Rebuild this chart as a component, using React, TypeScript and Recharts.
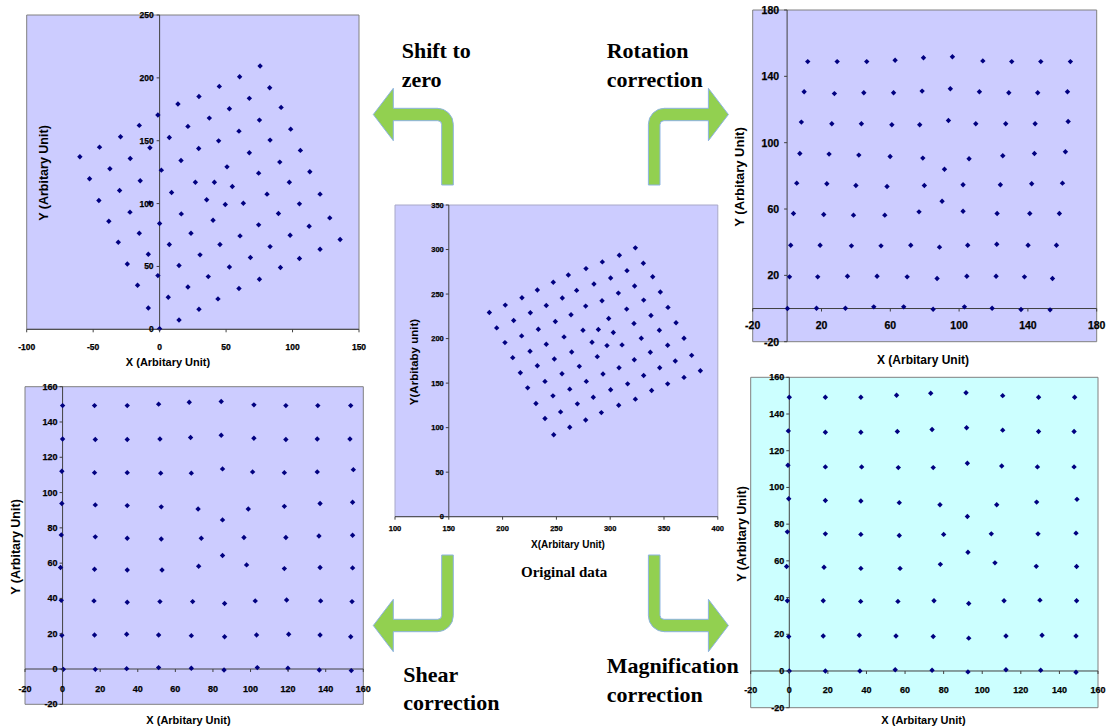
import {
  ScatterChart, Scatter, XAxis, YAxis, CartesianGrid,
  ReferenceLine, ReferenceArea,
} from 'recharts';

type Pt = [number, number];

// measured grid (x, y) at each stage of the correction chain
const originalPts: Pt[] = [
  [261.1, 271.4], [247.1, 263.2], [268.8, 254.1], [232.3, 254.5], [218.0, 245.9], [255.5, 245.5],
  [240.6, 237.2], [202.5, 237.6], [187.7, 229.3], [263.6, 226.7], [225.8, 229.0], [210.3, 220.3],
  [249.0, 219.2], [194.5, 212.0], [233.2, 210.5], [217.7, 203.0], [257.1, 201.9], [202.2, 195.5],
  [240.6, 193.6], [264.2, 185.0], [225.5, 185.7], [209.4, 178.6], [248.1, 177.1], [232.3, 169.5],
  [271.3, 168.8], [216.5, 161.7], [255.2, 160.5], [239.4, 151.9], [223.3, 144.7], [262.4, 143.2],
  [246.8, 135.7], [231.0, 127.1], [269.5, 126.7], [253.9, 117.7], [239.4, 110.2], [262.4, 100.4],
  [247.5, 92.1],
  [323.4, 301.9], [308.5, 293.6], [292.7, 286.1], [330.8, 284.6], [277.5, 278.6], [315.6, 276.3],
  [339.5, 269.5], [300.4, 268.0], [284.9, 261.3], [322.7, 259.0], [307.6, 251.1], [346.6, 252.3],
  [292.4, 242.5], [331.1, 243.2], [277.2, 236.5], [315.3, 233.1], [353.7, 235.0], [298.6, 222.6],
  [337.9, 225.9], [322.1, 216.9], [361.2, 217.7], [274.7, 209.4], [289.0, 210.2], [302.9, 206.8],
  [283.1, 195.9], [297.0, 192.1], [311.0, 192.9], [328.9, 200.4], [345.7, 209.4], [368.6, 200.4],
  [288.0, 179.7], [322.4, 176.3], [337.3, 184.6], [353.4, 192.5], [375.7, 181.2], [360.5, 174.8],
  [308.2, 167.3], [346.0, 167.3], [383.8, 163.9], [293.3, 160.2], [331.1, 158.6], [368.6, 156.4],
  [277.8, 151.9], [316.2, 149.2], [353.4, 149.2], [300.4, 142.5], [338.5, 141.7], [284.3, 134.2],
  [323.4, 132.0], [307.9, 125.2], [291.8, 116.9], [277.2, 108.6],
];

const shiftedPts: Pt[] = [
  [0, 0.5], [14.6, 7.4], [29.6, 15.9], [43.9, 24.2], [59.7, 32.4], [75.1, 39.8], [90.9, 49.1], [105.2, 56.3], [120.7, 63.7], [135.8, 71.4],
  [-8.5, 17.0], [6.5, 25.5], [21.3, 33.7], [36.6, 41.9], [52.5, 49.6], [68.3, 57.1], [83.1, 65.8], [98.2, 74.8], [112.5, 82.0], [128.0, 88.6],
  [-16.6, 35.0], [-1.3, 42.7], [14.6, 50.7], [30.4, 59.2], [45.4, 67.4], [60.5, 74.3], [74.5, 83.1], [89.4, 92.1], [105.2, 99.8], [120.7, 107.5],
  [-24.3, 52.0], [-8.5, 59.7], [7.3, 67.4], [23.6, 76.4], [40.2, 86.8], [49.4, 99.3], [63.0, 100.3], [80.8, 107.5], [97.6, 117.0], [113.0, 125.3],
  [-31.1, 69.3], [-15.3, 76.4], [0, 84.1], [16.3, 91.8], [35.4, 103.0], [41.2, 117.0], [54.7, 113.6], [74.5, 124.2], [90.4, 133.0], [105.9, 142.3],
  [-38.2, 86.0], [-22.3, 93.2], [-7.5, 100.6], [9.0, 108.8], [26.9, 117.0], [50.7, 129.2], [67.5, 140.4], [83.1, 150.5], [98.6, 159.2],
  [-45.7, 102.4], [-30.1, 110.4], [-14.6, 118.1], [1.3, 126.6], [16.1, 134.3], [29.4, 143.8], [44.4, 149.9], [59.7, 157.6], [75.1, 166.4], [91.4, 176.5],
  [-52.7, 119.7], [-37.4, 127.7], [-22.1, 135.9], [-7.3, 144.4], [7.3, 152.6], [21.3, 161.4], [37.4, 168.0], [52.5, 175.4], [67.5, 183.7], [82.8, 192.1],
  [-60.0, 137.2], [-45.2, 144.9], [-29.4, 153.1], [-15.3, 162.2], [-1.3, 170.5], [13.8, 179.2], [29.6, 185.2], [44.9, 193.2], [60.2, 200.9], [75.6, 209.4],
];

const rotatedPts: Pt[] = [
  [12.0, 148.9], [29.1, 148.9], [46.3, 148.9], [62.8, 149.7], [79.3, 151.2], [96.1, 151.8], [113.8, 149.3], [130.6, 148.9], [147.5, 148.9], [164.7, 148.9],
  [9.9, 130.7], [27.5, 129.6], [44.6, 130.1], [61.9, 130.1], [78.5, 131.1], [94.9, 132.5], [111.8, 130.7], [128.9, 130.1], [145.7, 130.1], [163.0, 130.7],
  [8.3, 112.4], [26.0, 111.4], [43.2, 111.4], [60.9, 110.8], [77.1, 110.8], [93.8, 113.4], [109.7, 111.4], [127.1, 111.4], [144.2, 111.4], [163.4, 112.8],
  [7.4, 93.5], [24.4, 93.1], [41.7, 92.5], [59.9, 91.7], [78.9, 90.7], [91.5, 84.0], [105.8, 90.3], [125.4, 92.1], [143.8, 93.5], [161.8, 94.5],
  [5.6, 75.6], [23.1, 75.2], [40.0, 74.2], [58.1, 73.6], [79.8, 74.2], [90.1, 64.7], [102.3, 74.6], [124.0, 74.6], [142.2, 75.2], [160.1, 75.6],
  [3.7, 57.3], [21.3, 56.7], [38.6, 56.3], [56.8, 56.3], [76.7, 58.3], [102.3, 58.7], [122.1, 57.3], [141.1, 57.3], [158.3, 57.3],
  [2.1, 38.2], [19.2, 38.2], [37.4, 37.8], [54.6, 37.8], [71.9, 38.2], [88.6, 37.0], [105.0, 38.2], [121.9, 38.8], [140.1, 38.2], [156.6, 38.2],
  [1.4, 19.1], [17.8, 19.1], [35.1, 19.5], [52.3, 19.5], [69.8, 19.1], [87.2, 18.1], [104.5, 19.5], [121.5, 19.5], [138.0, 19.1], [154.3, 18.1],
  [0.2, 0], [17.1, 0.2], [33.9, 0.2], [50.4, 1.0], [67.8, 1.0], [84.9, -0.4], [103.1, 1.0], [119.2, 0.2], [136.0, -0.6], [152.9, -0.8],
];

const shearedPts: Pt[] = [
  [0, 149.3], [17.0, 149.3], [34.4, 149.3], [51.1, 150.1], [67.4, 151.2], [84.4, 151.6], [101.8, 149.7], [118.8, 149.3], [135.8, 149.3], [153.3, 149.3],
  [0, 130.4], [17.4, 130.1], [34.4, 130.1], [51.8, 130.4], [68.1, 131.2], [84.4, 132.5], [101.8, 130.8], [118.8, 130.1], [135.5, 130.4], [152.9, 130.4],
  [-0.4, 112.1], [17.0, 111.3], [34.4, 111.3], [52.2, 111.0], [68.5, 111.0], [85.1, 113.4], [101.1, 111.7], [118.0, 111.3], [135.5, 111.7], [154.7, 113.0],
  [-0.4, 93.8], [17.4, 93.0], [34.4, 92.6], [52.5, 91.9], [72.1, 90.7], [85.1, 84.5], [98.8, 90.7], [118.0, 92.2], [137.0, 93.8], [154.3, 94.5],
  [-0.7, 76.0], [17.4, 74.9], [34.4, 74.1], [52.5, 73.7], [73.8, 74.1], [85.1, 64.3], [96.5, 74.5], [118.8, 74.5], [136.4, 75.4], [154.3, 75.8],
  [-1.1, 57.5], [17.0, 56.5], [34.4, 56.1], [52.9, 56.1], [72.4, 58.2], [97.9, 59.0], [118.0, 56.9], [137.0, 57.5], [154.3, 57.3],
  [-0.7, 38.9], [16.7, 38.6], [34.4, 37.8], [51.8, 38.2], [69.2, 38.2], [86.2, 37.1], [102.5, 38.6], [119.2, 39.1], [137.3, 38.6], [154.0, 38.2],
  [-0.4, 19.1], [17.0, 19.3], [34.1, 19.7], [51.1, 19.3], [68.5, 18.9], [86.2, 18.3], [103.2, 19.3], [120.3, 19.7], [137.0, 19.3], [153.3, 18.3],
  [0.4, -0.2], [17.4, -0.2], [34.1, 0.2], [51.1, 0.8], [68.5, 0.4], [85.9, -0.6], [103.6, 0.8], [119.9, 0.4], [136.6, -0.6], [153.6, -0.9],
];

const magnifiedPts: Pt[] = [
  [0, 149.1], [18.7, 149.1], [37.1, 149.1], [55.6, 150.2], [73.3, 151.3], [91.6, 151.6], [110.6, 150.0], [129.2, 149.1], [147.9, 149.1],
  [-0.5, 130.8], [18.7, 130.1], [37.1, 130.1], [56.0, 130.5], [74.0, 131.6], [91.9, 132.5], [110.6, 131.2], [129.2, 130.5], [147.6, 130.5],
  [-0.7, 112.1], [18.7, 111.2], [37.5, 111.2], [56.5, 110.8], [74.6, 110.8], [92.3, 113.2], [110.1, 111.7], [128.6, 111.2], [147.6, 111.2],
  [-0.3, 93.8], [18.7, 92.9], [37.1, 92.6], [57.0, 91.7], [78.1, 90.6], [92.3, 84.2], [107.5, 90.6], [128.2, 92.0], [149.1, 93.5],
  [-1.0, 75.8], [18.7, 74.7], [37.1, 74.4], [57.0, 73.8], [80.0, 74.4], [92.6, 64.7], [104.7, 74.7], [128.9, 74.7], [148.6, 75.1],
  [-1.4, 56.9], [18.0, 56.5], [37.1, 55.9], [57.4, 55.9], [78.3, 58.1], [106.6, 58.9], [128.0, 57.0], [148.9, 56.9],
  [-1.0, 38.3], [17.6, 38.3], [37.0, 37.9], [56.3, 37.9], [75.0, 38.3], [93.0, 36.8], [111.3, 38.3], [129.9, 38.6], [148.9, 38.3],
  [-0.3, 18.8], [17.6, 19.1], [36.3, 19.5], [55.3, 19.1], [74.6, 18.8], [93.0, 17.9], [112.3, 19.1], [131.0, 19.5], [148.6, 19.1],
  [0, 0], [18.7, 0], [36.6, 0], [54.9, 0.7], [74.0, 0.4], [92.6, -0.5], [112.3, 0.7], [130.3, 0.4], [148.6, -0.7],
];

const origXTicks = [100, 150, 200, 250, 300, 350, 400];
const origYTicks = [0, 50, 100, 150, 200, 250, 300, 350];
const shiftXTicks = [-100, -50, 0, 50, 100, 150];
const shiftYTicks = [0, 50, 100, 150, 200, 250];
const rotTicks = [-20, 20, 60, 100, 140, 180];
const corrTicks = [-20, 0, 20, 40, 60, 80, 100, 120, 140, 160];

const SANS = '"Liberation Sans", Arial, sans-serif';
const SERIF = '"Liberation Serif", "Times New Roman", serif';
const AXIS = '#404040';
const AXIS_W = 10; // room reserved for each recharts axis strip

interface Title { text: string; cx: number; cy: number; size: number }

interface PanelProps {
  data: Pt[];
  box: { left: number; top: number; width: number; height: number };
  plot: { x: number; y: number; w: number; h: number };
  xDomain: [number, number];
  yDomain: [number, number];
  xTicks: number[];
  yTicks: number[];
  xCross: number;
  yCross: number;
  xLabelDy: number;
  yLabelDx: number;
  tickFont: number;
  bg: string;
  border: string;
  xTitle: Title;
  yTitle: Title;
}

const Diamond = ({ cx, cy }: any) => (
  <path d={`M${cx} ${cy - 2.7}L${cx + 2.7} ${cy}L${cx} ${cy + 2.7}L${cx - 2.7} ${cy}Z`} fill="#000080" />
);

function Panel(p: PanelProps) {
  const { box, plot } = p;
  const left = plot.x - box.left;
  const top = plot.y - box.top;
  const bottom = box.top + box.height - plot.y - plot.h;
  const margin = {
    left: left - AXIS_W,
    top,
    right: box.left + box.width - plot.x - plot.w,
    bottom: bottom - AXIS_W,
  };
  const [x0, x1] = p.xDomain;
  const [y0, y1] = p.yDomain;
  // Excel-style axes cross inside the plot, so labels sit on the crossing lines
  const axisY = top + ((y1 - p.yCross) / (y1 - y0)) * plot.h;
  const axisX = left + ((p.xCross - x0) / (x1 - x0)) * plot.w;

  const labelProps = {
    dominantBaseline: 'central' as const,
    fontSize: p.tickFont,
    fontWeight: 'bold',
    fontFamily: SANS,
    fill: '#000',
    stroke: '#000',
    strokeWidth: 0.25,
  };

  const xTick = ({ x, payload }: any) => (
    <g>
      <line x1={x} x2={x} y1={axisY} y2={axisY + 3} stroke={AXIS} />
      <text x={x} y={axisY + p.xLabelDy} textAnchor="middle" {...labelProps}>{payload.value}</text>
    </g>
  );
  const yTick = ({ y, payload }: any) => (
    <g>
      <line x1={axisX - 3} x2={axisX} y1={y} y2={y} stroke={AXIS} />
      <text x={axisX + p.yLabelDx} y={y} textAnchor="end" {...labelProps}>{payload.value}</text>
    </g>
  );

  const titleStyle = (t: Title, rotate: boolean): React.CSSProperties => ({
    position: 'absolute',
    left: t.cx,
    top: t.cy,
    transform: `translate(-50%, -50%)${rotate ? ' rotate(-90deg)' : ''}`,
    whiteSpace: 'nowrap',
    fontFamily: SANS,
    fontWeight: 'bold',
    fontSize: t.size,
    lineHeight: 1,
    color: '#000',
  });

  return (
    <>
      <div style={{ position: 'absolute', left: box.left, top: box.top }}>
        <ScatterChart width={box.width} height={box.height} margin={margin}>
          <CartesianGrid horizontal={false} vertical={false} fill={p.bg} fillOpacity={1} />
          <XAxis type="number" dataKey="x" domain={p.xDomain} ticks={p.xTicks} interval={0}
            height={AXIS_W} axisLine={false} tickLine={false} tick={xTick} />
          <YAxis type="number" dataKey="y" domain={p.yDomain} ticks={p.yTicks} interval={0}
            width={AXIS_W} axisLine={false} tickLine={false} tick={yTick} />
          <ReferenceArea x1={x0} x2={x1} y1={y0} y2={y1} fill="none" stroke={p.border} />
          <ReferenceLine x={p.xCross} stroke={AXIS} />
          <ReferenceLine y={p.yCross} stroke={AXIS} />
          <Scatter data={p.data.map(([x, y]) => ({ x, y }))} shape={Diamond} isAnimationActive={false} />
        </ScatterChart>
      </div>
      <div style={titleStyle(p.xTitle, false)}>{p.xTitle.text}</div>
      <div style={titleStyle(p.yTitle, true)}>{p.yTitle.text}</div>
    </>
  );
}

// bent block arrow (top-left case); the other three are mirrored copies
const ARROW = 'M453.3 185 L453.3 124.3 A16 16 0 0 0 437.3 108.3 L393.3 108.3 L393.3 88.3 L373.3 114.5 '
  + 'L393.3 140.7 L393.3 120.7 L437.7 120.7 A4 4 0 0 1 441.7 124.7 L441.7 185 Z';

const arrowTransforms = [
  '',
  'translate(1101.7 0) scale(-1 1)',
  'translate(0 740) scale(1 -1)',
  'translate(1101.7 740) scale(-1 -1)',
];

export default function App() {
  const lavender = '#CCCCFF';
  const yTitle = 'Y (Arbitary Unit)';
  const xTitle = 'X (Arbitary Unit)';
  return (
    <div style={{ position: 'absolute', left: 0, top: 0, width: 1110, height: 728, background: '#fff', overflow: 'hidden' }}>
      <Panel
        data={shiftedPts}
        box={{ left: 0, top: 0, width: 372, height: 360 }}
        plot={{ x: 26.7, y: 15, w: 332.3, h: 314.3 }}
        xDomain={[-100, 150]} yDomain={[0, 250]} xTicks={shiftXTicks} yTicks={shiftYTicks}
        xCross={0} yCross={0} xLabelDy={17.5} yLabelDx={-6} tickFont={8.5}
        bg={lavender} border="#808080"
        xTitle={{ text: xTitle, cx: 168, cy: 362, size: 11 }}
        yTitle={{ text: yTitle, cx: 43.5, cy: 173, size: 12.5 }}
      />
      <Panel
        data={rotatedPts}
        box={{ left: 730, top: 0, width: 380, height: 356 }}
        plot={{ x: 752.7, y: 10, w: 344, h: 331.7 }}
        xDomain={[-20, 180]} yDomain={[-20, 180]} xTicks={rotTicks} yTicks={rotTicks}
        xCross={0} yCross={0} xLabelDy={16} yLabelDx={-8} tickFont={10.5}
        bg={lavender} border="#808080"
        xTitle={{ text: xTitle, cx: 923, cy: 360, size: 12 }}
        yTitle={{ text: yTitle, cx: 738.5, cy: 177, size: 13 }}
      />
      <Panel
        data={originalPts}
        box={{ left: 380, top: 195, width: 345, height: 345 }}
        plot={{ x: 395, y: 205, w: 322.8, h: 311.7 }}
        xDomain={[100, 400]} yDomain={[0, 350]} xTicks={origXTicks} yTicks={origYTicks}
        xCross={150} yCross={0} xLabelDy={12} yLabelDx={-5} tickFont={7.5}
        bg={lavender} border="#A8A8C8"
        xTitle={{ text: 'X(Arbitary Unit)', cx: 568, cy: 545, size: 10 }}
        yTitle={{ text: 'Y(Arbitaby unit)', cx: 415, cy: 362, size: 11.5 }}
      />
      <Panel
        data={shearedPts}
        box={{ left: 0, top: 370, width: 375, height: 345 }}
        plot={{ x: 25, y: 386.7, w: 338.3, h: 317.6 }}
        xDomain={[-20, 160]} yDomain={[-20, 160]} xTicks={corrTicks} yTicks={corrTicks}
        xCross={0} yCross={0} xLabelDy={20} yLabelDx={-5} tickFont={9}
        bg={lavender} border="#808080"
        xTitle={{ text: xTitle, cx: 188.5, cy: 720, size: 11 }}
        yTitle={{ text: yTitle, cx: 15.5, cy: 547, size: 12.5 }}
      />
      <Panel
        data={magnifiedPts}
        box={{ left: 730, top: 370, width: 380, height: 352 }}
        plot={{ x: 750.7, y: 377.3, w: 347.3, h: 330.4 }}
        xDomain={[-20, 160]} yDomain={[-20, 160]} xTicks={corrTicks} yTicks={corrTicks}
        xCross={0} yCross={0} xLabelDy={19.5} yLabelDx={-5} tickFont={9}
        bg="#CCFFFF" border="#808080"
        xTitle={{ text: xTitle, cx: 923.5, cy: 720, size: 11 }}
        yTitle={{ text: yTitle, cx: 742, cy: 533.5, size: 12.5 }}
      />
      <svg width={1110} height={728} style={{ position: 'absolute', left: 0, top: 0, pointerEvents: 'none' }}>
        {arrowTransforms.map((t, i) => (
          <path key={i} d={ARROW} transform={t || undefined} fill="#92D050" stroke="#8DB3E2" strokeWidth={1} />
        ))}
        <g fontFamily={SERIF} fontWeight="bold" fontSize={22} fill="#000">
          <text x={401.7} y={58.3}>Shift to</text>
          <text x={401.7} y={87}>zero</text>
          <text x={606.7} y={58.3}>Rotation</text>
          <text x={606.7} y={86.7}>correction</text>
          <text x={403.3} y={681.7}>Shear</text>
          <text x={403.3} y={710}>correction</text>
          <text x={606.7} y={673.3}>Magnification</text>
          <text x={606.7} y={702.3}>correction</text>
        </g>
        <text x={521} y={577.3} fontFamily={SERIF} fontWeight="bold" fontSize={15} fill="#000">Original data</text>
      </svg>
    </div>
  );
}
